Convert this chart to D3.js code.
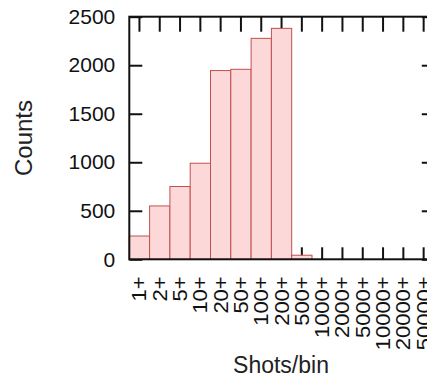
<!DOCTYPE html>
<html>
<head>
<meta charset="utf-8">
<script src="https://cdn.jsdelivr.net/npm/d3@7"></script>
<style>
  body { margin: 0; background: #fff; }
  svg { display: block; font-family: "Liberation Sans", Arial, sans-serif; }
</style>
</head>
<body>
<div id="chart"></div>
<script>
const categories = ["1+", "2+", "5+", "10+", "20+", "50+", "100+", "200+", "500+",
  "1000+", "2000+", "5000+", "10000+", "20000+", "50000+"];
const counts = [240, 550, 750, 990, 1945, 1958, 2277, 2380, 42, 0, 0, 0, 0, 0, 0];
const yTicks = [0, 500, 1000, 1500, 2000, 2500];

const width = 427, height = 379;
const plotLeft = 129.3, plotRight = 433.8, plotTop = 16.7, plotBottom = 259.3;

const svg = d3.select('#chart')
    .append('svg')
    .attr('width', width)
    .attr('height', height);

const x = d3.scaleBand()
    .domain(categories)
    .range([plotLeft, plotRight])
    .padding(0);

const y = d3.scaleLinear()
    .domain([0, 2500])
    .range([plotBottom, plotTop]);

// axes, ticks pointing inward
const gLeft = svg.append('g')
    .attr('transform', `translate(${plotLeft},0)`)
    .call(d3.axisLeft(y).tickValues(yTicks).tickFormat(d3.format('d'))
      .tickSize(-13).tickSizeOuter(0).tickPadding(14));
gLeft.selectAll('text')
    .style('font-size', '21px')
    .attr('fill', '#111');

svg.append('g')
    .attr('transform', `translate(${plotRight},0)`)
    .call(d3.axisRight(y).tickValues(yTicks).tickSize(-12).tickSizeOuter(0).tickFormat(''));

svg.append('g')
    .attr('transform', `translate(0,${plotTop})`)
    .call(d3.axisTop(x).tickSize(-15).tickSizeOuter(0).tickFormat(''));

const gBottom = svg.append('g')
    .attr('transform', `translate(0,${plotBottom})`)
    .call(d3.axisBottom(x).tickSize(-12).tickSizeOuter(0));
gBottom.selectAll('text')
    .attr('x', 0)
    .attr('y', 0)
    .attr('dy', '0.36em')
    .attr('text-anchor', 'end')
    .attr('transform', 'translate(0,17) rotate(-90) scale(1,0.88)')
    .style('font-size', '22px')
    .attr('fill', '#111');

svg.selectAll('.domain').remove();
svg.selectAll('.tick line').attr('stroke', '#111').attr('stroke-width', 2);

// bars
svg.selectAll('rect.bar')
    .data(categories)
    .enter()
    .append('rect')
    .attr('class', 'bar')
    .attr('x', d => x(d))
    .attr('y', (d, i) => y(counts[i]))
    .attr('width', x.bandwidth())
    .attr('height', (d, i) => plotBottom - y(counts[i]))
    .attr('fill', '#fdd8d8')
    .attr('stroke', '#c0504f')
    .attr('stroke-width', 1);

// frame
svg.append('rect')
    .attr('x', plotLeft)
    .attr('y', plotTop)
    .attr('width', plotRight - plotLeft)
    .attr('height', plotBottom - plotTop)
    .attr('fill', 'none')
    .attr('stroke', '#111')
    .attr('stroke-width', 2);

// titles
svg.append('text')
    .attr('transform', `translate(32,138) rotate(-90)`)
    .attr('text-anchor', 'middle')
    .style('font-size', '24px')
    .attr('fill', '#222')
    .text('Counts');

svg.append('text')
    .attr('x', 281)
    .attr('y', 373)
    .attr('text-anchor', 'middle')
    .style('font-size', '23px')
    .attr('fill', '#222')
    .text('Shots/bin');
</script>
</body>
</html>
